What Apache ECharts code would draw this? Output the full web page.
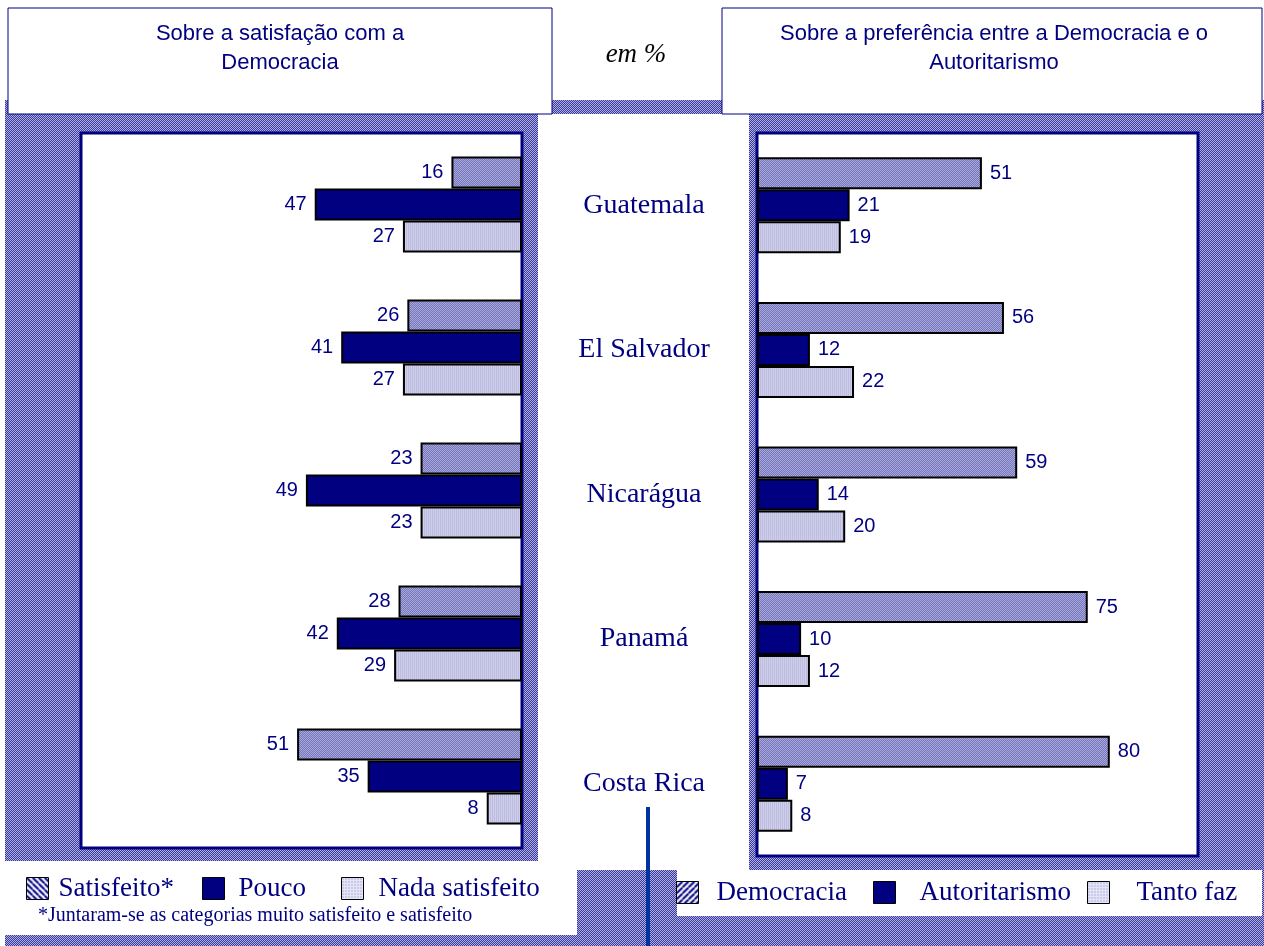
<!DOCTYPE html>
<html>
<head>
<meta charset="utf-8">
<script src="https://cdn.jsdelivr.net/npm/echarts@6/dist/echarts.min.js"></script>
<style>
  html, body { margin: 0; padding: 0; background: #fff; }
  #chart { width: 1264px; height: 946px; }
</style>
</head>
<body>
<div id="chart"></div>
<script>
// dados
const paises = ['Guatemala', 'El Salvador', 'Nicarágua', 'Panamá', 'Costa Rica'];
const satisfeito = [16, 26, 23, 28, 51];
const pouco = [47, 41, 49, 42, 35];
const nadaSatisfeito = [27, 27, 23, 29, 8];
const democracia = [51, 56, 59, 75, 80];
const autoritarismo = [21, 12, 14, 10, 7];
const tantoFaz = [19, 22, 20, 12, 8];

const NAVY = '#000080';
const SERIF = '"Liberation Serif", "Times New Roman", serif';
const SANS = '"Liberation Sans", Arial, sans-serif';

// pequenos padroes de preenchimento
function makePattern(w, h, draw) {
    const c = document.createElement('canvas');
    c.width = w;
    c.height = h;
    draw(c.getContext('2d'));
    return { image: c, repeat: 'repeat' };
}

function checker(a, b) {
    return makePattern(2, 2, ctx => {
        ctx.fillStyle = a; ctx.fillRect(0, 0, 2, 2);
        ctx.fillStyle = b; ctx.fillRect(0, 0, 1, 1); ctx.fillRect(1, 1, 1, 1);
    });
}

const fundo = checker('#3a3a9e', '#b0b0e0');
const medio = checker('#7676bc', '#a8a8da');
const claro = makePattern(2, 1, ctx => {
    ctx.fillStyle = '#bcbce0'; ctx.fillRect(0, 0, 1, 1);
    ctx.fillStyle = '#cfcfea'; ctx.fillRect(1, 0, 1, 1);
});
function stripes(dir) {
    return makePattern(6, 6, ctx => {
        ctx.fillStyle = '#ffffff'; ctx.fillRect(0, 0, 6, 6);
        ctx.strokeStyle = NAVY; ctx.lineWidth = 2;
        for (let k = -6; k <= 12; k += 6) {
            ctx.beginPath();
            if (dir > 0) { ctx.moveTo(k, 6); ctx.lineTo(k + 6, 0); }
            else { ctx.moveTo(k, 0); ctx.lineTo(k + 6, 6); }
            ctx.stroke();
        }
    });
}
const pontos = makePattern(3, 3, ctx => {
    ctx.fillStyle = '#e4e4f6'; ctx.fillRect(0, 0, 3, 3);
    ctx.fillStyle = '#7c7cc4'; ctx.fillRect(1, 1, 1, 1);
});

const chart = echarts.init(document.getElementById('chart'));

function serie(name, data, fill, gridIdx) {
    return {
        name: name,
        type: 'bar',
        xAxisIndex: gridIdx,
        yAxisIndex: gridIdx,
        data: data,
        barWidth: 32,
        barGap: '0%',
        itemStyle: { color: fill, borderColor: '#000', borderWidth: 2 },
        label: {
            show: true,
            position: gridIdx === 0 ? 'left' : 'right',
            distance: 8,
            color: NAVY,
            fontFamily: SANS,
            fontSize: 20
        },
        emphasis: { disabled: true }
    };
}

// uma legenda por item, para acertar o espacamento do original
function legenda(name, fill, x, y, gap) {
    return {
        left: x, top: y, padding: 0, itemWidth: 22, itemHeight: 22, icon: 'rect',
        selectedMode: false,
        textStyle: { color: NAVY, fontFamily: SERIF, fontSize: 27, padding: [0, 0, 0, gap] },
        data: [{ name: name, itemStyle: { color: fill, borderColor: '#000', borderWidth: 1 } }]
    };
}

const option = {
    animation: false,
    grid: [
        { left: 81, top: 133, width: 441, height: 715, show: true, backgroundColor: '#fff', borderColor: NAVY, borderWidth: 3 },
        { left: 757, top: 133, width: 441, height: 723, show: true, backgroundColor: '#fff', borderColor: NAVY, borderWidth: 3 }
    ],
    xAxis: [
        { type: 'value', gridIndex: 0, min: 0, max: 100, inverse: true, show: false },
        { type: 'value', gridIndex: 1, min: 0, max: 100, show: false }
    ],
    yAxis: [
        { type: 'category', gridIndex: 0, data: paises, inverse: true, show: false },
        {
            type: 'category', gridIndex: 1, data: paises, inverse: true,
            axisLine: { show: false }, axisTick: { show: false },
            axisLabel: { interval: 0, margin: 113, align: 'center', color: NAVY, fontFamily: SERIF, fontSize: 28 }
        }
    ],
    legend: [
        legenda('Satisfeito*', stripes(-1), 26, 875, 5),
        legenda('Pouco', NAVY, 202, 875, 9),
        legenda('Nada satisfeito', pontos, 341, 875, 10),
        legenda('Democracia', stripes(1), 676, 879, 13),
        legenda('Autoritarismo', NAVY, 873, 879, 19),
        legenda('Tanto faz', pontos, 1087, 879, 22)
    ],
    graphic: [
        // fundo quadriculado e recortes brancos
        { type: 'rect', z: -10, silent: true, shape: { x: 5, y: 100, width: 1259, height: 846 }, style: { fill: fundo } },
        { type: 'rect', z: -9, silent: true, shape: { x: 538, y: 114, width: 211, height: 756 }, style: { fill: '#fff' } },
        { type: 'rect', z: -9, silent: true, shape: { x: 5, y: 861, width: 572, height: 74 }, style: { fill: '#fff' } },
        { type: 'rect', z: -9, silent: true, shape: { x: 677, y: 870, width: 585, height: 46 }, style: { fill: '#fff' } },
        // caixas de titulo
        { type: 'rect', z: -8, silent: true, shape: { x: 8, y: 8, width: 544, height: 106 }, style: { fill: '#fff', stroke: NAVY, lineWidth: 1 } },
        { type: 'rect', z: -8, silent: true, shape: { x: 722, y: 8, width: 540, height: 106 }, style: { fill: '#fff', stroke: NAVY, lineWidth: 1 } },
        {
            type: 'text', z: 5, silent: true, x: 280, y: 48,
            style: { text: 'Sobre a satisfação com a\nDemocracia', font: '22px ' + SANS, fill: NAVY, align: 'center', verticalAlign: 'middle', lineHeight: 29 }
        },
        {
            type: 'text', z: 5, silent: true, x: 994, y: 48,
            style: { text: 'Sobre a preferência entre a Democracia e o\nAutoritarismo', font: '22px ' + SANS, fill: NAVY, align: 'center', verticalAlign: 'middle', lineHeight: 29 }
        },
        {
            type: 'text', z: 5, silent: true, x: 636, y: 55,
            style: { text: 'em %', font: 'italic 27px ' + SERIF, fill: '#000', align: 'center', verticalAlign: 'middle' }
        },
        {
            type: 'text', z: 5, silent: true, x: 38, y: 916,
            style: { text: '*Juntaram-se as categorias muito satisfeito e satisfeito', font: '20px ' + SERIF, fill: NAVY, align: 'left', verticalAlign: 'middle' }
        },
        // linha vertical azul
        { type: 'rect', z: 5, silent: true, shape: { x: 646, y: 807, width: 4, height: 139 }, style: { fill: '#0033a0' } }
    ],
    series: [
        serie('Satisfeito*', satisfeito, medio, 0),
        serie('Pouco', pouco, NAVY, 0),
        serie('Nada satisfeito', nadaSatisfeito, claro, 0),
        serie('Democracia', democracia, medio, 1),
        serie('Autoritarismo', autoritarismo, NAVY, 1),
        serie('Tanto faz', tantoFaz, claro, 1)
    ]
};

chart.setOption(option);
</script>
</body>
</html>
